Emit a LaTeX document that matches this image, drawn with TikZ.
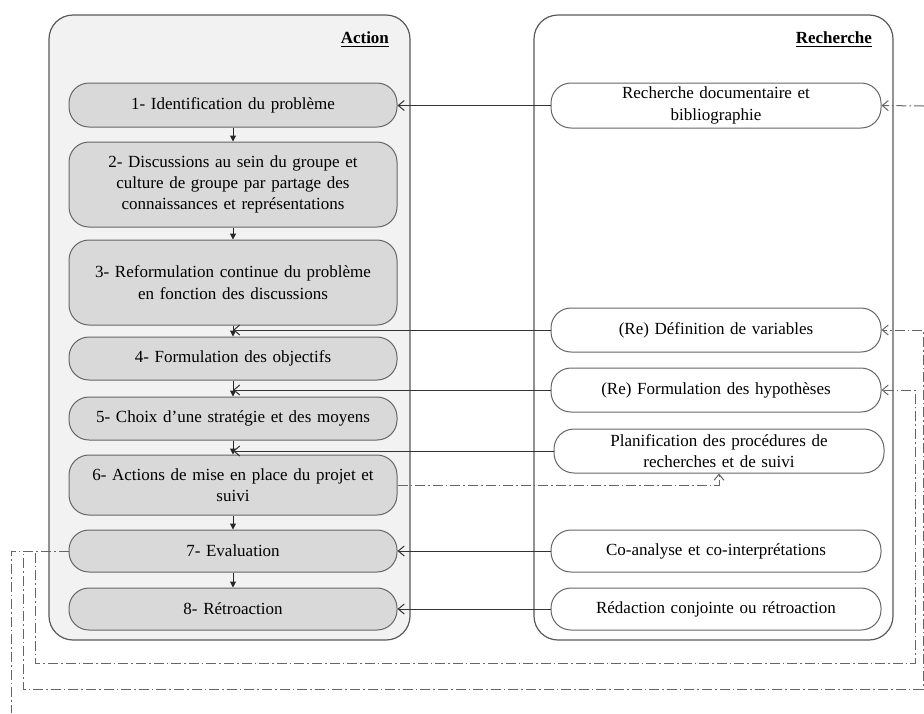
\documentclass[tikz,border=0pt]{standalone}
\usepackage{fontspec}
\setmainfont{Liberation Serif}
\usetikzlibrary{arrows.meta}

\begin{document}
\begin{tikzpicture}[x=0.5pt,y=-0.5pt,
    every node/.style={font=\fontsize{8.5}{10.6}\selectfont},
    cadre/.style={draw=black!65,rounded corners=12pt,line width=0.6pt},
    etape/.style={draw=black!60,fill=black!15,rounded corners=10pt,align=center,
        minimum width=164pt,text width=158pt,inner sep=0pt,line width=0.5pt},
    tache/.style={draw=black!60,fill=white,rounded corners=10pt,align=center,
        minimum width=165pt,text width=159pt,inner sep=0pt,line width=0.5pt},
    fleche/.style={draw=black!80,line width=0.5pt,-{Straight Barb[length=3pt,width=5pt]}},
    suite/.style={draw=black!85,line width=0.5pt,-{Triangle[length=3pt,width=3pt]}},
    retour/.style={draw=black!60,line width=0.5pt,dash pattern=on 5pt off 1.5pt on 0.8pt off 1.5pt,
        -{Straight Barb[length=3pt,width=5pt]}}]
    \useasboundingbox (0,0) rectangle (924,713);

    % les deux cadres
    \draw[cadre,fill=black!5] (49,15) rectangle (410,640);
    \draw[cadre] (534,15) rectangle (893,640);
    \node[anchor=east] (titreA) at (396,40) {\underline{\textbf{Action}}};
    \node[anchor=east] (titreR) at (879,40) {\underline{\textbf{Recherche}}};

    % action
    \node[etape,minimum height=22pt] (b1) at (233,105) {1- Identification du problème};
    \node[etape,minimum height=42.5pt] (b2) at (233,184.5) {2- Discussions au sein du groupe et\\ culture de groupe par partage des\\ connaissances et représentations};
    \node[etape,minimum height=42.5pt] (b3) at (233,282.5) {3- Reformulation continue du problème\\ en fonction des discussions};
    \node[etape,minimum height=21.5pt] (b4) at (233,358.5) {4- Formulation des objectifs};
    \node[etape,minimum height=21.5pt] (b5) at (233,418.5) {5- Choix d’une stratégie et des moyens};
    \node[etape,minimum height=30pt] (b6) at (233,485) {6- Actions de mise en place du projet et\\ suivi};
    \node[etape,minimum height=21pt] (b7) at (233,551) {7- Evaluation};
    \node[etape,minimum height=21pt] (b8) at (233,609) {8- Rétroaction};

    % recherche
    \node[tache,minimum height=22.5pt] (r1) at (716,105.5) {Recherche documentaire et\\ bibliographie};
    \node[tache,minimum height=22pt] (r2) at (716,330) {(Re) Définition de variables};
    \node[tache,minimum height=22pt] (r3) at (716,390) {(Re) Formulation des hypothèses};
    \node[tache,minimum height=22pt] (r4) at (719,451) {Planification des procédures de\\ recherches et de suivi};
    \node[tache,minimum height=21pt] (r5) at (716,551) {Co-analyse et co-interprétations};
    \node[tache,minimum height=21pt] (r6) at (716,609) {Rédaction conjointe ou rétroaction};

    \foreach \a/\b in {b1/b2,b2/b3,b3/b4,b4/b5,b5/b6,b6/b7,b7/b8}
        \draw[suite] (\a.south) -- (\b.north);

    \draw[fleche] (r1.west) -- (r1.west -| b1.east);
    \draw[fleche] (r2.west) -- (r2.west -| b4.north);
    \draw[fleche] (r3.west) -- (r3.west -| b5.north);
    \draw[fleche] (r4.west) -- (r4.west -| b6.north);
    \draw[fleche] (r5.west) -- (b7.east);
    \draw[fleche] (r6.west) -- (b8.east);

    % boucles de retour
    \coordinate (g1) at (11,713);
    \coordinate (g2) at (23,689);
    \coordinate (g3) at (35,663);
    \coordinate (d1) at (924,106);
    \coordinate (d2) at (923,689);
    \coordinate (d3) at (915,663);
    \draw[retour] (b6.east) -| (r4.south);
    \draw[retour] (b7.west) -| (g3) -- (d3) |- (r3.east);
    \draw[retour] (b7.west) -| (g2) -- (d2) |- (r2.east);
    \draw[retour,-] (b7.west) -| (g1);
    \draw[retour] (d1) -- (r1.east);
\end{tikzpicture}
\end{document}
